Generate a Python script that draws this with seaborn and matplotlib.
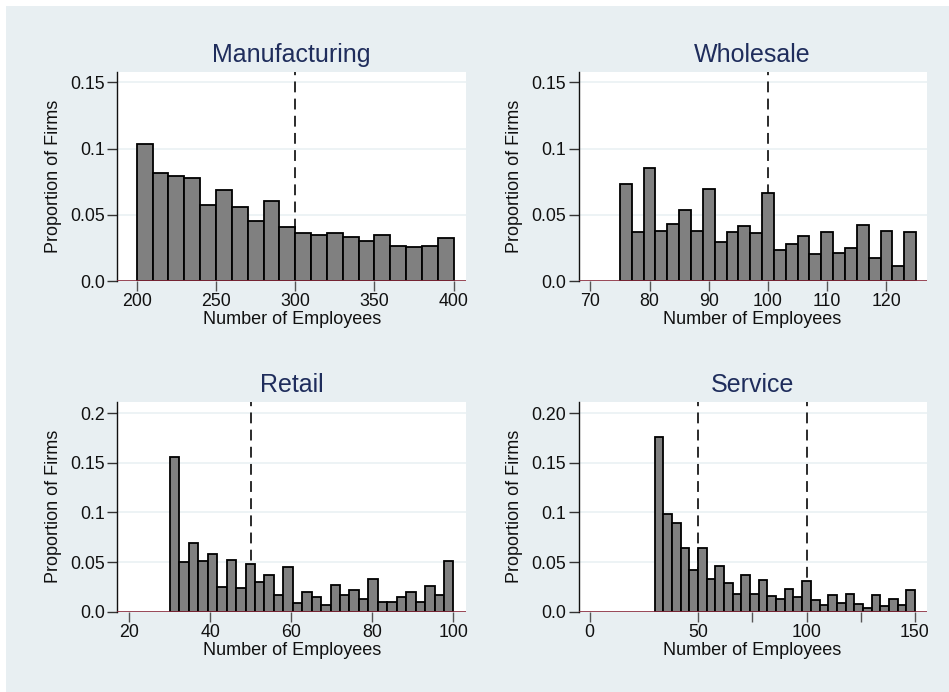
import numpy as np
import pandas as pd
import matplotlib
matplotlib.use("Agg")
import matplotlib.pyplot as plt
import seaborn as sns
from matplotlib.patches import Rectangle

# ---------------- data ----------------
titles = ["Manufacturing", "Wholesale", "Retail", "Service"]

manu_start, manu_width = 200, 10
manu_props = [0.1033, 0.0814, 0.0793, 0.0778, 0.0572, 0.0690, 0.0557, 0.0456, 0.0605, 0.0408,
              0.0365, 0.0350, 0.0365, 0.0330, 0.0305, 0.0350, 0.0262, 0.0254, 0.0267, 0.0325]

whole_start, whole_width = 75, 2
whole_props = [0.0730, 0.0373, 0.0851, 0.0378, 0.0431, 0.0539, 0.0378, 0.0698, 0.0297, 0.0368,
               0.0413, 0.0363, 0.0662, 0.0234, 0.0282, 0.0338, 0.0202, 0.0373, 0.0212, 0.0252,
               0.0421, 0.0176, 0.0378, 0.0116, 0.0373]

retail_start, retail_width = 30, 7 / 3
retail_props = [0.1560, 0.0497, 0.0695, 0.0510, 0.0581, 0.0248, 0.0517, 0.0238, 0.0483, 0.0295,
                0.0366, 0.0164, 0.0446, 0.0084, 0.0198, 0.0151, 0.0070, 0.0272, 0.0171, 0.0215,
                0.0131, 0.0332, 0.0097, 0.0097, 0.0151, 0.0201, 0.0097, 0.0255, 0.0168, 0.0513]

serv_start, serv_width = 30, 4
serv_props = [0.1755, 0.0987, 0.0889, 0.0638, 0.0419, 0.0641, 0.0332, 0.0463, 0.0292, 0.0181,
              0.0366, 0.0174, 0.0319, 0.0158, 0.0124, 0.0225, 0.0148, 0.0312, 0.0117, 0.0064,
              0.0164, 0.0084, 0.0178, 0.0074, 0.0034, 0.0164, 0.0057, 0.0128, 0.0064, 0.0218]

cutoffs = [[300], [100], [50], [50, 100]]
xticks = [[200, 250, 300, 350, 400], [70, 80, 90, 100, 110, 120], [20, 40, 60, 80, 100], [0, 50, 100, 150]]
xminor = [[], [], [], [75, 125]]
yticks = [[0, 0.05, 0.1, 0.15], [0, 0.05, 0.1, 0.15],
          [0, 0.05, 0.1, 0.15, 0.2], [0, 0.05, 0.1, 0.15, 0.2]]
ytick_labels = [["0.0", "0.05", "0.1", "0.15"], ["0.0", "0.05", "0.1", "0.15"],
                ["0.0", "0.05", "0.1", "0.15", "0.2"], ["0.0", "0.05", "0.1", "0.15", "0.20"]]
xlims = [(187.7, 407.8), (68.0, 126.8), (17.0, 103.1), (-5.1, 155.4)]
ylims = [(0, 0.158), (0, 0.158), (0, 0.2114), (0, 0.2114)]

series = [(manu_start, manu_width, manu_props), (whole_start, whole_width, whole_props),
          (retail_start, retail_width, retail_props), (serv_start, serv_width, serv_props)]

# ---------------- style ----------------
sns.set_theme(style="white")
plt.rcParams["font.family"] = ["Liberation Sans", "DejaVu Sans"]

BG = "#E8EFF2"
NAVY = "#1F2D5C"

W, H = 949, 692
fig = plt.figure(figsize=(W / 100, H / 100), dpi=100)
fig.patch.set_facecolor("white")
fig.add_artist(Rectangle((6 / W, 0), 1 - 6 / W, 1 - 6 / H, transform=fig.transFigure,
                         facecolor=BG, edgecolor="none", zorder=-10))

positions = [
    (117.3, 71.7, 466.0, 281.0),
    (578.5, 71.7, 926.7, 281.0),
    (117.3, 401.7, 466.0, 611.7),
    (578.5, 401.7, 926.7, 611.7),
]

for i, (start, width, props) in enumerate(series):
    x0, y0, x1, y1 = positions[i]
    ax = fig.add_axes([x0 / W, 1 - y1 / H, (x1 - x0) / W, (y1 - y0) / H])
    ax.set_facecolor("white")

    n = len(props)
    edges = [start + width * k for k in range(n + 1)]
    centers = [(edges[k] + edges[k + 1]) / 2 for k in range(n)]
    df = pd.DataFrame({"x": centers, "w": props})

    for c in cutoffs[i]:
        ax.axvline(c, color="#1a1a1a", lw=1.3, dashes=(6, 3.5), zorder=1)

    sns.histplot(data=df, x="x", weights="w", bins=edges, stat="count", ax=ax,
                 color="#808080", edgecolor="black", linewidth=1.3, alpha=1, zorder=2)

    ax.axhline(0, color="#8a2a3c", lw=1.2, zorder=3)

    ax.set_xlim(*xlims[i])
    ax.set_ylim(*ylims[i])
    ax.set_xticks(xticks[i])
    if xminor[i]:
        ax.set_xticks(xminor[i], minor=True)
    ax.set_yticks(yticks[i])
    ax.set_yticklabels(ytick_labels[i])
    ax.yaxis.grid(True, color="#EAF1F3", lw=1.2, zorder=0)
    ax.xaxis.grid(False)
    ax.set_axisbelow(True)

    for s in ["top", "right", "bottom"]:
        ax.spines[s].set_visible(False)
    ax.spines["left"].set_color("#111111")
    ax.spines["left"].set_linewidth(1.0)

    ax.tick_params(axis="x", which="both", bottom=True, length=7, width=1, color="#555555",
                   labelsize=12.8, pad=2, labelcolor="#111111")
    ax.tick_params(axis="y", left=True, length=7, width=1, color="#333333",
                   labelsize=12.8, pad=2, labelcolor="#111111")

    ax.set_xlabel("Number of Employees", fontsize=13, color="#111111", labelpad=0.5)
    ax.set_ylabel("Proportion of Firms", fontsize=13, color="#111111", labelpad=6)
    ax.set_title(titles[i], fontsize=18, color=NAVY, pad=7)

fig.savefig("out.png", dpi=100, facecolor=fig.get_facecolor())
